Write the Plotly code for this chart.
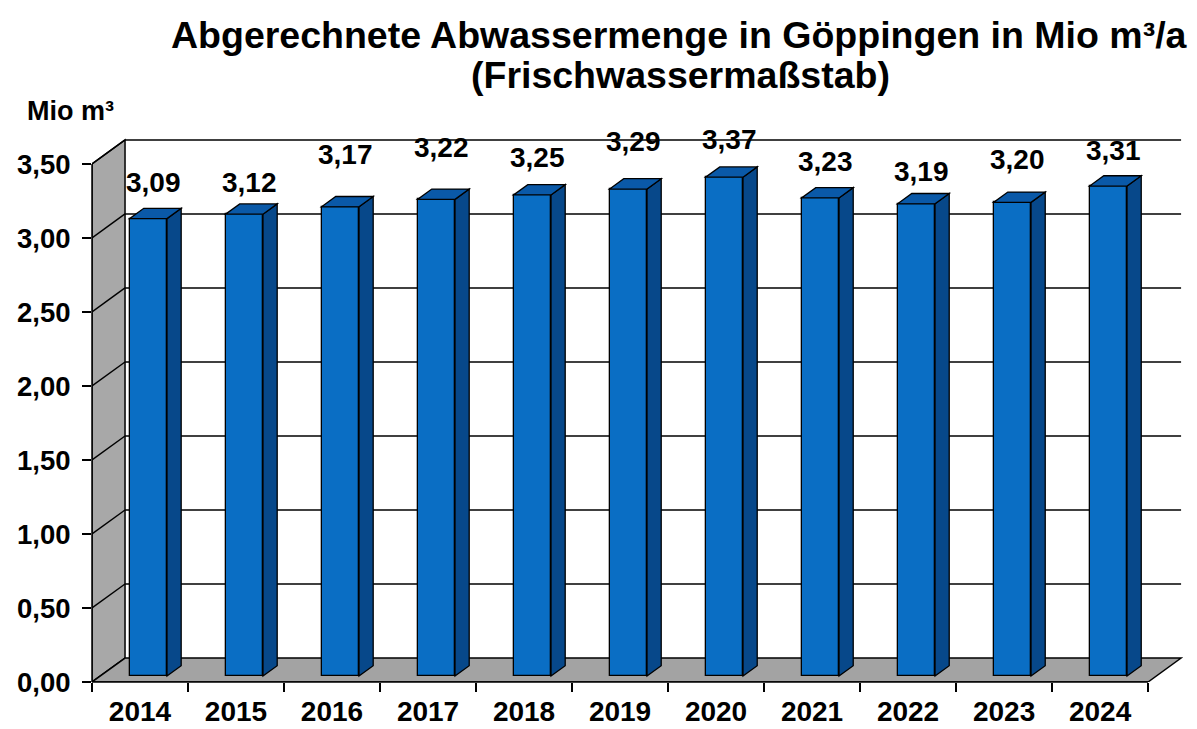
import plotly.graph_objects as go

# ---- data ----
years = ["2014", "2015", "2016", "2017", "2018", "2019", "2020", "2021", "2022", "2023", "2024"]
values = [3.09, 3.12, 3.17, 3.22, 3.25, 3.29, 3.37, 3.23, 3.19, 3.20, 3.31]
y_ticks = [0.0, 0.5, 1.0, 1.5, 2.0, 2.5, 3.0, 3.5]
title_line1 = "Abgerechnete Abwassermenge in Göppingen in Mio m³/a"
title_line2 = "(Frischwassermaßstab)"
unit_label = "Mio m³"

# ---- label placement (layout, in axis units) ----
label_y = [3.378, 3.378, 3.561, 3.608, 3.541, 3.649, 3.662, 3.514, 3.446, 3.527, 3.588]

# ---- 3D geometry (layout) ----
DX = 0.344   # depth offset along x (category units)
DY = 0.162   # depth offset along y (value units)
Y_MAX = 3.5
BAR_W = 0.39
D0, D1 = 0.25, 0.68   # bar depth position as fraction of floor depth
n = len(years)
X0, X1 = -0.5, n - 0.5

FONT = "Arial, Liberation Sans, sans-serif"
C_FRONT = "#0a6ec4"
C_TOP = "#0a59a8"
C_SIDE = "#07488a"
C_WALL = "#a8a8a8"
C_FLOOR = "#a3a3a3"

def poly(pts):
    return "M " + " L ".join(f"{x},{y}" for x, y in pts) + " Z"

shapes = []
# left wall
shapes.append(dict(type="path", xref="x", yref="y", layer="below",
                   path=poly([(X0, 0), (X0 + DX, DY), (X0 + DX, Y_MAX + DY), (X0, Y_MAX)]),
                   fillcolor=C_WALL, line=dict(color="black", width=1.5)))
# floor
shapes.append(dict(type="path", xref="x", yref="y", layer="below",
                   path=poly([(X0, 0), (X1, 0), (X1 + DX, DY), (X0 + DX, DY)]),
                   fillcolor=C_FLOOR, line=dict(color="black", width=1.5)))
# gridlines: left wall diagonal + back wall horizontal
for g in y_ticks[1:]:
    shapes.append(dict(type="line", xref="x", yref="y", layer="below",
                       x0=X0, y0=g, x1=X0 + DX, y1=g + DY,
                       line=dict(color="black", width=1.5)))
    shapes.append(dict(type="line", xref="x", yref="y", layer="below",
                       x0=X0 + DX, y0=g + DY, x1=X1 + DX, y1=g + DY,
                       line=dict(color="black", width=1.5)))
# front axis edges
shapes.append(dict(type="line", xref="paper", yref="y", x0=0, x1=0, y0=0, y1=Y_MAX,
                   line=dict(color="black", width=1.5)))
shapes.append(dict(type="line", xref="x", yref="paper", x0=X0, x1=X1, y0=0, y1=0,
                   line=dict(color="black", width=1.5)))

# bar side and top faces
base = D0 * DY
ddx = (D1 - D0) * DX
ddy = (D1 - D0) * DY
for i, v in enumerate(values):
    xl = i + D0 * DX - BAR_W / 2
    xr = xl + BAR_W
    top = base + v
    shapes.append(dict(type="path", xref="x", yref="y", layer="above",
                       path=poly([(xr, base), (xr + ddx, base + ddy), (xr + ddx, top + ddy), (xr, top)]),
                       fillcolor=C_SIDE, line=dict(color="black", width=1.3)))
    shapes.append(dict(type="path", xref="x", yref="y", layer="above",
                       path=poly([(xl, top), (xr, top), (xr + ddx, top + ddy), (xl + ddx, top + ddy)]),
                       fillcolor=C_TOP, line=dict(color="black", width=1.3)))

fig = go.Figure()
fig.add_trace(go.Bar(
    x=years, y=values, base=base,
    width=BAR_W, offset=D0 * DX - BAR_W / 2,
    marker=dict(color=C_FRONT, line=dict(color="black", width=1.3)),
    hoverinfo="skip", showlegend=False,
))

annotations = []
for i, (v, ly) in enumerate(zip(values, label_y)):
    annotations.append(dict(xref="x", yref="y", x=i + D0 * DX + 0.05, y=ly,
                            text=f"{v:.2f}".replace(".", ","), showarrow=False,
                            xanchor="center", yanchor="middle",
                            font=dict(family=FONT, size=28, color="black", weight="bold")))

W, H = 1197, 729
ML, MR, MT, MB = 92, 14, 137, 47
plot_h = H - MT - MB
plot_w = W - ML - MR

def py(pix):
    return (H - MB - pix) / plot_h

def px(pix):
    return (pix - ML) / plot_w

annotations.append(dict(xref="paper", yref="paper", x=px(679), y=py(35), text=f"<b>{title_line1}</b>",
                        showarrow=False, xanchor="center", yanchor="middle",
                        font=dict(family=FONT, size=37.5, color="black")))
annotations.append(dict(xref="paper", yref="paper", x=px(680), y=py(75), text=f"<b>{title_line2}</b>",
                        showarrow=False, xanchor="center", yanchor="middle",
                        font=dict(family=FONT, size=37.5, color="black")))
annotations.append(dict(xref="paper", yref="paper", x=px(25), y=py(111), text=f"<b>{unit_label}</b>",
                        showarrow=False, xanchor="left", yanchor="middle",
                        font=dict(family=FONT, size=27, color="black")))

fig.update_layout(
    width=W, height=H,
    margin=dict(l=ML, r=MR, t=MT, b=MB, pad=0, autoexpand=False),
    paper_bgcolor="white", plot_bgcolor="white",
    separators=",.",
    shapes=shapes, annotations=annotations,
    bargap=0,
    xaxis=dict(type="category", range=[X0, X1 + DX + 0.02], tickson="boundaries",
               ticks="outside", ticklen=9, tickwidth=1.5, tickcolor="black",
               ticklabelstandoff=10, automargin=False,
               showgrid=False, showline=False, zeroline=False,
               tickfont=dict(family=FONT, size=28, color="black", weight="bold")),
    yaxis=dict(range=[0, Y_MAX + DY + 0.02], tickmode="array", tickvals=y_ticks,
               tickformat=".2f", ticks="outside", ticklen=9, tickwidth=1.5, tickcolor="black",
               ticklabelstandoff=6, automargin=False,
               showgrid=False, showline=False, zeroline=False,
               tickfont=dict(family=FONT, size=27.5, color="black", weight="bold")),
)

fig.write_html("out.html")
